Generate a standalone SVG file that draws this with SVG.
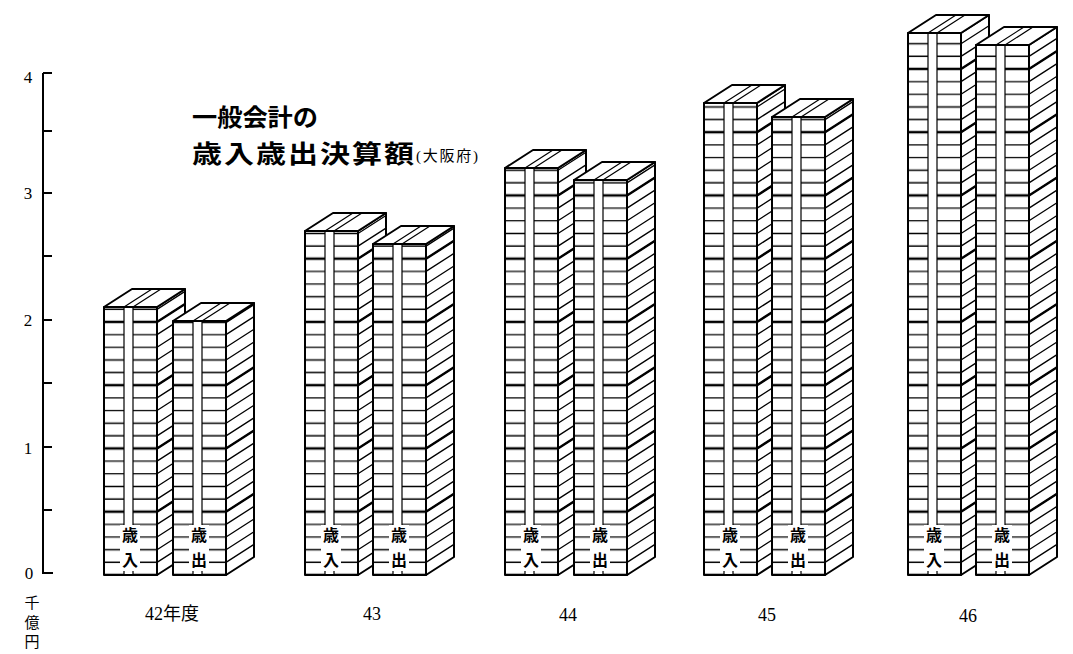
<svg xmlns="http://www.w3.org/2000/svg" width="1073" height="654" viewBox="0 0 1073 654">
<style>
.o{stroke:#000;stroke-width:2;stroke-linejoin:round}
.w{fill:#fff}
.s{stroke:#000;stroke-width:1.2;fill:none}
.dn{stroke:#000;stroke-width:1.3;fill:none}
.dk{stroke:#000;stroke-width:2.4;fill:none}
.tk{stroke:#000;stroke-width:2.4}
.tn{stroke:#000;stroke-width:1.3}
.lb{font-family:"Noto Sans CJK JP","Noto Sans",sans-serif;font-weight:bold;font-size:16px;text-anchor:middle;fill:#000}
.ax{font-family:"Liberation Serif","Noto Sans CJK JP",serif;font-size:17px;text-anchor:middle;fill:#000}
.yr{font-family:"Liberation Serif","Noto Sans CJK JP",serif;font-size:18px;text-anchor:middle;fill:#000}
.t{font-family:"Noto Sans CJK JP","Noto Sans",sans-serif;font-weight:bold;fill:#000}
</style>
<defs>
<pattern id="rows" patternUnits="userSpaceOnUse" x="0" y="569" width="200" height="63.25">
<rect width="200" height="63.25" fill="#fff"/>
<line class="tk" x1="0" y1="6" x2="200" y2="6"/>
<line class="tn" x1="0" y1="18.65" x2="200" y2="18.65"/>
<line class="tn" x1="0" y1="31.3" x2="200" y2="31.3"/>
<line class="tn" x1="0" y1="43.95" x2="200" y2="43.95"/>
<line class="tn" x1="0" y1="56.6" x2="200" y2="56.6"/>
</pattern>
</defs>
<rect width="1073" height="654" fill="#fff"/>

<g id="axis">
<path d="M43 73V573H53M43 73H52M43 131H52M43 193H52M43 256H52M43 320H52M43 383H52M43 447H52M43 510H52" fill="none" stroke="#000" stroke-width="2"/>
<text class="ax" x="28" y="83">4</text>
<text class="ax" x="28" y="199">3</text>
<text class="ax" x="28" y="326">2</text>
<text class="ax" x="28" y="454">1</text>
<text class="ax" x="29" y="579">0</text>
<text class="ax" x="32" y="608" style="font-size:15px">千</text>
<text class="ax" x="32" y="628" style="font-size:15px">億</text>
<text class="ax" x="32" y="647" style="font-size:15px">円</text>
</g>

<g id="title">
<text class="t" transform="translate(192,126) scale(1.05,1)" font-size="24" textLength="120" lengthAdjust="spacing">一般会計の</text>
<text class="t" transform="translate(192,163) scale(1.2,1)" font-size="25" textLength="185" lengthAdjust="spacing">歳入歳出決算額</text>
<text x="416" y="161" font-family="Liberation Serif,Noto Sans CJK JP,serif" font-size="15" textLength="62" lengthAdjust="spacing">(大阪府)</text>
</g>

<!-- 42 -->
<g id="bar42in">
<polygon class="o w" points="157,307 185,289 185,557 157,575"/>
<path class="dn" d="M157 562.35l28-18m-28 5.35l28-18m-28 5.35l28-18m-28 5.35l28-18m-28 5.35l28-18m-28 5.35l28-18m-28 5.35l28-18m-28 5.35l28-18m-28 5.35l28-18m-28 5.35l28-18m-28 5.35l28-18m-28 5.35l28-18m-28 5.35l28-18m-28 5.35l28-18m-28 5.35l28-18m-28 5.35l28-18m-28 5.35l28-18m-28 5.35l28-18m-28 5.35l28-18m-28 5.35l28-18m-28 5.35l28-18"/>
<path class="dk" d="M157 511.75l28-18m-28-45.25l28-18m-28-45.25l28-18m-28-45.25l28-18"/>
<rect class="o" x="104" y="307" width="53" height="268" fill="url(#rows)"/>
<rect class="w" x="124" y="308" width="9" height="266"/>
<path class="s" d="M124 307V575M133 307V575"/>
<polygon class="o w" points="104,307 132,289 185,289 157,307"/>
<path class="s" d="M124 307L152 289M133 307L161 289"/>
<rect class="w" x="120" y="525" width="20" height="46"/>
<text class="lb" x="130" y="541">歳</text><text class="lb" x="130" y="566">入</text>
</g>
<g id="bar42out">
<polygon class="o w" points="226,321 254,303 254,557 226,575"/>
<path class="dn" d="M226 562.35l28-18m-28 5.35l28-18m-28 5.35l28-18m-28 5.35l28-18m-28 5.35l28-18m-28 5.35l28-18m-28 5.35l28-18m-28 5.35l28-18m-28 5.35l28-18m-28 5.35l28-18m-28 5.35l28-18m-28 5.35l28-18m-28 5.35l28-18m-28 5.35l28-18m-28 5.35l28-18m-28 5.35l28-18m-28 5.35l28-18m-28 5.35l28-18m-28 5.35l28-18m-28 5.35l28-18"/>
<path class="dk" d="M226 511.75l28-18m-28-45.25l28-18m-28-45.25l28-18m-28-45.25l28-18"/>
<rect class="o" x="173" y="321" width="53" height="254" fill="url(#rows)"/>
<rect class="w" x="193" y="322" width="9" height="252"/>
<path class="s" d="M193 321V575M202 321V575"/>
<polygon class="o w" points="173,321 201,303 254,303 226,321"/>
<path class="s" d="M193 321L221 303M202 321L230 303"/>
<rect class="w" x="189" y="525" width="20" height="46"/>
<text class="lb" x="199" y="541">歳</text><text class="lb" x="199" y="566">出</text>
</g>
<text class="yr" x="172" y="620">42年度</text>

<!-- 43 -->
<g id="bar43in">
<polygon class="o w" points="358,231 386,213 386,557 358,575"/>
<path class="dn" d="M358 562.35l28-18m-28 5.35l28-18m-28 5.35l28-18m-28 5.35l28-18m-28 5.35l28-18m-28 5.35l28-18m-28 5.35l28-18m-28 5.35l28-18m-28 5.35l28-18m-28 5.35l28-18m-28 5.35l28-18m-28 5.35l28-18m-28 5.35l28-18m-28 5.35l28-18m-28 5.35l28-18m-28 5.35l28-18m-28 5.35l28-18m-28 5.35l28-18m-28 5.35l28-18m-28 5.35l28-18m-28 5.35l28-18m-28 5.35l28-18m-28 5.35l28-18m-28 5.35l28-18m-28 5.35l28-18m-28 5.35l28-18m-28 5.35l28-18"/>
<path class="dk" d="M358 511.75l28-18m-28-45.25l28-18m-28-45.25l28-18m-28-45.25l28-18m-28-45.25l28-18"/>
<rect class="o" x="305" y="231" width="53" height="344" fill="url(#rows)"/>
<rect class="w" x="325" y="232" width="9" height="342"/>
<path class="s" d="M325 231V575M334 231V575"/>
<polygon class="o w" points="305,231 333,213 386,213 358,231"/>
<path class="s" d="M325 231L353 213M334 231L362 213"/>
<rect class="w" x="321" y="525" width="20" height="46"/>
<text class="lb" x="331" y="541">歳</text><text class="lb" x="331" y="566">入</text>
</g>
<g id="bar43out">
<polygon class="o w" points="426,244 454,226 454,557 426,575"/>
<path class="dn" d="M426 562.35l28-18m-28 5.35l28-18m-28 5.35l28-18m-28 5.35l28-18m-28 5.35l28-18m-28 5.35l28-18m-28 5.35l28-18m-28 5.35l28-18m-28 5.35l28-18m-28 5.35l28-18m-28 5.35l28-18m-28 5.35l28-18m-28 5.35l28-18m-28 5.35l28-18m-28 5.35l28-18m-28 5.35l28-18m-28 5.35l28-18m-28 5.35l28-18m-28 5.35l28-18m-28 5.35l28-18m-28 5.35l28-18m-28 5.35l28-18m-28 5.35l28-18m-28 5.35l28-18m-28 5.35l28-18m-28 5.35l28-18"/>
<path class="dk" d="M426 511.75l28-18m-28-45.25l28-18m-28-45.25l28-18m-28-45.25l28-18m-28-45.25l28-18"/>
<rect class="o" x="373" y="244" width="53" height="331" fill="url(#rows)"/>
<rect class="w" x="393" y="245" width="9" height="329"/>
<path class="s" d="M393 244V575M402 244V575"/>
<polygon class="o w" points="373,244 401,226 454,226 426,244"/>
<path class="s" d="M393 244L421 226M402 244L430 226"/>
<rect class="w" x="389" y="525" width="20" height="46"/>
<text class="lb" x="399" y="541">歳</text><text class="lb" x="399" y="566">出</text>
</g>
<text class="yr" x="372" y="620">43</text>

<!-- 44 -->
<g id="bar44in">
<polygon class="o w" points="558,168 586,150 586,557 558,575"/>
<path class="dn" d="M558 562.35l28-18m-28 5.35l28-18m-28 5.35l28-18m-28 5.35l28-18m-28 5.35l28-18m-28 5.35l28-18m-28 5.35l28-18m-28 5.35l28-18m-28 5.35l28-18m-28 5.35l28-18m-28 5.35l28-18m-28 5.35l28-18m-28 5.35l28-18m-28 5.35l28-18m-28 5.35l28-18m-28 5.35l28-18m-28 5.35l28-18m-28 5.35l28-18m-28 5.35l28-18m-28 5.35l28-18m-28 5.35l28-18m-28 5.35l28-18m-28 5.35l28-18m-28 5.35l28-18m-28 5.35l28-18m-28 5.35l28-18m-28 5.35l28-18m-28 5.35l28-18m-28 5.35l28-18m-28 5.35l28-18m-28 5.35l28-18m-28 5.35l28-18"/>
<path class="dk" d="M558 511.75l28-18m-28-45.25l28-18m-28-45.25l28-18m-28-45.25l28-18m-28-45.25l28-18m-28-45.25l28-18"/>
<rect class="o" x="505" y="168" width="53" height="407" fill="url(#rows)"/>
<rect class="w" x="525" y="169" width="9" height="405"/>
<path class="s" d="M525 168V575M534 168V575"/>
<polygon class="o w" points="505,168 533,150 586,150 558,168"/>
<path class="s" d="M525 168L553 150M534 168L562 150"/>
<rect class="w" x="521" y="525" width="20" height="46"/>
<text class="lb" x="531" y="541">歳</text><text class="lb" x="531" y="566">入</text>
</g>
<g id="bar44out">
<polygon class="o w" points="627,180 655,162 655,557 627,575"/>
<path class="dn" d="M627 562.35l28-18m-28 5.35l28-18m-28 5.35l28-18m-28 5.35l28-18m-28 5.35l28-18m-28 5.35l28-18m-28 5.35l28-18m-28 5.35l28-18m-28 5.35l28-18m-28 5.35l28-18m-28 5.35l28-18m-28 5.35l28-18m-28 5.35l28-18m-28 5.35l28-18m-28 5.35l28-18m-28 5.35l28-18m-28 5.35l28-18m-28 5.35l28-18m-28 5.35l28-18m-28 5.35l28-18m-28 5.35l28-18m-28 5.35l28-18m-28 5.35l28-18m-28 5.35l28-18m-28 5.35l28-18m-28 5.35l28-18m-28 5.35l28-18m-28 5.35l28-18m-28 5.35l28-18m-28 5.35l28-18m-28 5.35l28-18"/>
<path class="dk" d="M627 511.75l28-18m-28-45.25l28-18m-28-45.25l28-18m-28-45.25l28-18m-28-45.25l28-18m-28-45.25l28-18"/>
<rect class="o" x="574" y="180" width="53" height="395" fill="url(#rows)"/>
<rect class="w" x="594" y="181" width="9" height="393"/>
<path class="s" d="M594 180V575M603 180V575"/>
<polygon class="o w" points="574,180 602,162 655,162 627,180"/>
<path class="s" d="M594 180L622 162M603 180L631 162"/>
<rect class="w" x="590" y="525" width="20" height="46"/>
<text class="lb" x="600" y="541">歳</text><text class="lb" x="600" y="566">出</text>
</g>
<text class="yr" x="568" y="621">44</text>

<!-- 45 -->
<g id="bar45in">
<polygon class="o w" points="757,103 785,85 785,557 757,575"/>
<path class="dn" d="M757 562.35l28-18m-28 5.35l28-18m-28 5.35l28-18m-28 5.35l28-18m-28 5.35l28-18m-28 5.35l28-18m-28 5.35l28-18m-28 5.35l28-18m-28 5.35l28-18m-28 5.35l28-18m-28 5.35l28-18m-28 5.35l28-18m-28 5.35l28-18m-28 5.35l28-18m-28 5.35l28-18m-28 5.35l28-18m-28 5.35l28-18m-28 5.35l28-18m-28 5.35l28-18m-28 5.35l28-18m-28 5.35l28-18m-28 5.35l28-18m-28 5.35l28-18m-28 5.35l28-18m-28 5.35l28-18m-28 5.35l28-18m-28 5.35l28-18m-28 5.35l28-18m-28 5.35l28-18m-28 5.35l28-18m-28 5.35l28-18m-28 5.35l28-18m-28 5.35l28-18m-28 5.35l28-18m-28 5.35l28-18m-28 5.35l28-18m-28 5.35l28-18"/>
<path class="dk" d="M757 511.75l28-18m-28-45.25l28-18m-28-45.25l28-18m-28-45.25l28-18m-28-45.25l28-18m-28-45.25l28-18m-28-45.25l28-18"/>
<rect class="o" x="704" y="103" width="53" height="472" fill="url(#rows)"/>
<rect class="w" x="724" y="104" width="9" height="470"/>
<path class="s" d="M724 103V575M733 103V575"/>
<polygon class="o w" points="704,103 732,85 785,85 757,103"/>
<path class="s" d="M724 103L752 85M733 103L761 85"/>
<rect class="w" x="720" y="525" width="20" height="46"/>
<text class="lb" x="730" y="541">歳</text><text class="lb" x="730" y="566">入</text>
</g>
<g id="bar45out">
<polygon class="o w" points="825,117 853,99 853,557 825,575"/>
<path class="dn" d="M825 562.35l28-18m-28 5.35l28-18m-28 5.35l28-18m-28 5.35l28-18m-28 5.35l28-18m-28 5.35l28-18m-28 5.35l28-18m-28 5.35l28-18m-28 5.35l28-18m-28 5.35l28-18m-28 5.35l28-18m-28 5.35l28-18m-28 5.35l28-18m-28 5.35l28-18m-28 5.35l28-18m-28 5.35l28-18m-28 5.35l28-18m-28 5.35l28-18m-28 5.35l28-18m-28 5.35l28-18m-28 5.35l28-18m-28 5.35l28-18m-28 5.35l28-18m-28 5.35l28-18m-28 5.35l28-18m-28 5.35l28-18m-28 5.35l28-18m-28 5.35l28-18m-28 5.35l28-18m-28 5.35l28-18m-28 5.35l28-18m-28 5.35l28-18m-28 5.35l28-18m-28 5.35l28-18m-28 5.35l28-18m-28 5.35l28-18"/>
<path class="dk" d="M825 511.75l28-18m-28-45.25l28-18m-28-45.25l28-18m-28-45.25l28-18m-28-45.25l28-18m-28-45.25l28-18m-28-45.25l28-18"/>
<rect class="o" x="772" y="117" width="53" height="458" fill="url(#rows)"/>
<rect class="w" x="792" y="118" width="9" height="456"/>
<path class="s" d="M792 117V575M801 117V575"/>
<polygon class="o w" points="772,117 800,99 853,99 825,117"/>
<path class="s" d="M792 117L820 99M801 117L829 99"/>
<rect class="w" x="788" y="525" width="20" height="46"/>
<text class="lb" x="798" y="541">歳</text><text class="lb" x="798" y="566">出</text>
</g>
<text class="yr" x="767" y="621">45</text>

<!-- 46 -->
<g id="bar46in">
<polygon class="o w" points="961,33 989,15 989,557 961,575"/>
<path class="dn" d="M961 562.35l28-18m-28 5.35l28-18m-28 5.35l28-18m-28 5.35l28-18m-28 5.35l28-18m-28 5.35l28-18m-28 5.35l28-18m-28 5.35l28-18m-28 5.35l28-18m-28 5.35l28-18m-28 5.35l28-18m-28 5.35l28-18m-28 5.35l28-18m-28 5.35l28-18m-28 5.35l28-18m-28 5.35l28-18m-28 5.35l28-18m-28 5.35l28-18m-28 5.35l28-18m-28 5.35l28-18m-28 5.35l28-18m-28 5.35l28-18m-28 5.35l28-18m-28 5.35l28-18m-28 5.35l28-18m-28 5.35l28-18m-28 5.35l28-18m-28 5.35l28-18m-28 5.35l28-18m-28 5.35l28-18m-28 5.35l28-18m-28 5.35l28-18m-28 5.35l28-18m-28 5.35l28-18m-28 5.35l28-18m-28 5.35l28-18m-28 5.35l28-18m-28 5.35l28-18m-28 5.35l28-18m-28 5.35l28-18m-28 5.35l28-18m-28 5.35l28-18"/>
<path class="dk" d="M961 511.75l28-18m-28-45.25l28-18m-28-45.25l28-18m-28-45.25l28-18m-28-45.25l28-18m-28-45.25l28-18m-28-45.25l28-18m-28-45.25l28-18"/>
<rect class="o" x="908" y="33" width="53" height="542" fill="url(#rows)"/>
<rect class="w" x="928" y="34" width="9" height="540"/>
<path class="s" d="M928 33V575M937 33V575"/>
<polygon class="o w" points="908,33 936,15 989,15 961,33"/>
<path class="s" d="M928 33L956 15M937 33L965 15"/>
<rect class="w" x="924" y="525" width="20" height="46"/>
<text class="lb" x="934" y="541">歳</text><text class="lb" x="934" y="566">入</text>
</g>
<g id="bar46out">
<polygon class="o w" points="1029,45 1057,27 1057,557 1029,575"/>
<path class="dn" d="M1029 562.35l28-18m-28 5.35l28-18m-28 5.35l28-18m-28 5.35l28-18m-28 5.35l28-18m-28 5.35l28-18m-28 5.35l28-18m-28 5.35l28-18m-28 5.35l28-18m-28 5.35l28-18m-28 5.35l28-18m-28 5.35l28-18m-28 5.35l28-18m-28 5.35l28-18m-28 5.35l28-18m-28 5.35l28-18m-28 5.35l28-18m-28 5.35l28-18m-28 5.35l28-18m-28 5.35l28-18m-28 5.35l28-18m-28 5.35l28-18m-28 5.35l28-18m-28 5.35l28-18m-28 5.35l28-18m-28 5.35l28-18m-28 5.35l28-18m-28 5.35l28-18m-28 5.35l28-18m-28 5.35l28-18m-28 5.35l28-18m-28 5.35l28-18m-28 5.35l28-18m-28 5.35l28-18m-28 5.35l28-18m-28 5.35l28-18m-28 5.35l28-18m-28 5.35l28-18m-28 5.35l28-18m-28 5.35l28-18m-28 5.35l28-18"/>
<path class="dk" d="M1029 511.75l28-18m-28-45.25l28-18m-28-45.25l28-18m-28-45.25l28-18m-28-45.25l28-18m-28-45.25l28-18m-28-45.25l28-18m-28-45.25l28-18"/>
<rect class="o" x="976" y="45" width="53" height="530" fill="url(#rows)"/>
<rect class="w" x="996" y="46" width="9" height="528"/>
<path class="s" d="M996 45V575M1005 45V575"/>
<polygon class="o w" points="976,45 1004,27 1057,27 1029,45"/>
<path class="s" d="M996 45L1024 27M1005 45L1033 27"/>
<rect class="w" x="992" y="525" width="20" height="46"/>
<text class="lb" x="1002" y="541">歳</text><text class="lb" x="1002" y="566">出</text>
</g>
<text class="yr" x="968" y="622">46</text>
</svg>
